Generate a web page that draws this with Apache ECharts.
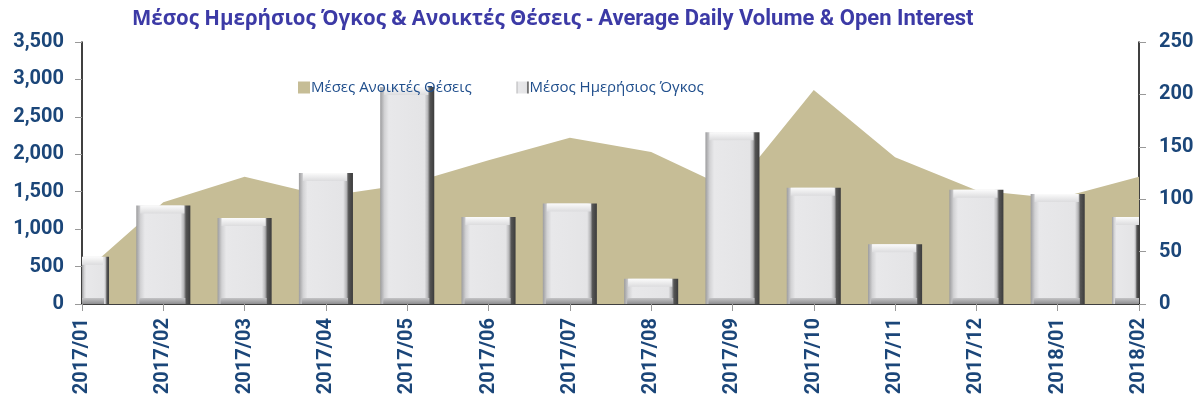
<!DOCTYPE html>
<html>
<head>
<meta charset="utf-8">
<script src="https://cdn.jsdelivr.net/npm/echarts@6/dist/echarts.min.js"></script>
<style>
    html, body { margin: 0; padding: 0; background: #fff; }
    #chart { width: 1202px; height: 401px; }
</style>
</head>
<body>
<div id="chart"></div>
<script>
// 月份
var months = ['2017/01', '2017/02', '2017/03', '2017/04', '2017/05', '2017/06', '2017/07',
    '2017/08', '2017/09', '2017/10', '2017/11', '2017/12', '2018/01', '2018/02'];
// Μέσες Ανοικτές Θέσεις (左轴)
var openInterest = [400, 1360, 1700, 1440, 1600, 1920, 2220, 2030, 1520, 2860, 1960, 1520, 1410, 1700];
// Μέσος Ημερήσιος Όγκος (右轴)
var dailyVolume = [45, 94, 82, 125, 207, 83, 96, 24, 164, 111, 57, 109, 105, 83];
// 刻度
var leftTicks = [0, 3500, 500];
var rightTicks = [0, 250, 50];

var labelColor = '#1b4679';
var myChart = echarts.init(document.getElementById('chart'));

// 柱子正面的渐变
var faceColor = new echarts.graphic.LinearGradient(0, 0, 1, 0, [
    {offset: 0, color: '#9c9c9e'},
    {offset: 0.08, color: '#d2d2d4'},
    {offset: 0.16, color: '#e8e8ea'},
    {offset: 0.82, color: '#e4e4e6'},
    {offset: 0.88, color: '#b4b4b6'},
    {offset: 0.92, color: '#555'},
    {offset: 1, color: '#3c3c3c'}
]);

// 立体柱子（超出坐标系的部分裁掉）
function renderBar(params, api) {
    var top = api.coord([api.value(0), api.value(1)]);
    var base = api.coord([api.value(0), 0]);
    var w = api.size([1, 0])[0] * 0.665;
    var x = top[0] - w / 2, y = top[1], h = base[1] - top[1];
    var cs = params.coordSys;
    var area = {x: cs.x, y: cs.y, width: cs.width, height: cs.height};
    var bevel = Math.min(8, h / 3);

    function piece(shape, fill) {
        var s = echarts.graphic.clipRectByRect(shape, area);
        if (!s) {
            return null;
        }
        return {type: 'rect', shape: s, style: {fill: fill}};
    }

    var children = [
        piece({x: x, y: y, width: w, height: h}, faceColor),
        // 顶部高光
        piece({x: x + 4, y: y, width: w - 10, height: bevel}, new echarts.graphic.LinearGradient(0, 0, 0, 1, [
            {offset: 0, color: '#fbfbfb'},
            {offset: 1, color: '#dcdcde'}
        ])),
        // 底部阴影
        piece({x: x + 3, y: base[1] - 6, width: w - 8, height: 6}, new echarts.graphic.LinearGradient(0, 0, 0, 1, [
            {offset: 0, color: '#c4c4c6'},
            {offset: 1, color: '#8e8e90'}
        ]))
    ].filter(function (c) {
        return c;
    });
    return {type: 'group', children: children};
}

var option = {
    animation: false,
    title: {
        left: 127,
        top: 3,
        text: '{a|Μέσος Ημερήσιος Όγκος & Ανοικτές Θέσεις - }{b|Average Daily Volume & Open Interest}',
        textStyle: {
            rich: {
                a: {fontFamily: 'Open Sans', fontSize: 20.5, color: '#3c3aa6'},
                b: {fontFamily: 'Roboto', fontSize: 22, fontWeight: 'bold', color: '#3c3aa6'}
            }
        }
    },
    legend: {
        left: 293,
        top: 75,
        itemWidth: 12,
        itemHeight: 12,
        itemGap: 45,
        icon: 'rect',
        textStyle: {fontFamily: 'Open Sans', fontSize: 15, color: '#1f4e8c', padding: [0, 0, 0, -4]},
        data: ['Μέσες Ανοικτές Θέσεις', 'Μέσος Ημερήσιος Όγκος']
    },
    grid: {left: 82, right: 63, top: 42, bottom: 97},
    xAxis: {
        type: 'category',
        boundaryGap: false,
        data: months,
        axisLine: {lineStyle: {color: '#000', width: 1.5}},
        axisTick: {lineStyle: {color: '#999'}, length: 7},
        axisLabel: {
            rotate: 90,
            margin: 14,
            fontFamily: 'Roboto',
            fontSize: 20,
            fontWeight: 'bold',
            color: labelColor
        }
    },
    yAxis: [
        {
            type: 'value',
            min: leftTicks[0],
            max: leftTicks[1],
            interval: leftTicks[2],
            splitLine: {show: false},
            axisLine: {show: true, lineStyle: {color: '#000', width: 1.5}},
            axisTick: {show: true, length: 7, lineStyle: {color: '#999'}},
            axisLabel: {
                margin: 18,
                fontFamily: 'Roboto',
                fontSize: 20,
                fontWeight: 'bold',
                color: labelColor,
                formatter: function (v) {
                    return v.toLocaleString('en-US');
                }
            }
        },
        {
            type: 'value',
            min: rightTicks[0],
            max: rightTicks[1],
            interval: rightTicks[2],
            splitLine: {show: false},
            axisLine: {show: true, lineStyle: {color: '#000', width: 1.5}},
            axisTick: {show: true, length: 7, lineStyle: {color: '#999'}},
            axisLabel: {
                margin: 20,
                fontFamily: 'Roboto',
                fontSize: 20,
                fontWeight: 'bold',
                color: labelColor
            }
        }
    ],
    series: [
        {
            name: 'Μέσες Ανοικτές Θέσεις',
            type: 'line',
            yAxisIndex: 0,
            data: openInterest,
            symbol: 'none',
            lineStyle: {width: 0},
            itemStyle: {color: '#c6bd96'},
            areaStyle: {color: '#c6bd96', opacity: 1},
            z: 1
        },
        {
            name: 'Μέσος Ημερήσιος Όγκος',
            type: 'custom',
            yAxisIndex: 1,
            renderItem: renderBar,
            encode: {x: 0, y: 1},
            itemStyle: {color: faceColor},
            data: dailyVolume.map(function (v, i) {
                return [i, v];
            }),
            z: 2
        }
    ]
};
myChart.setOption(option);
</script>
</body>
</html>
